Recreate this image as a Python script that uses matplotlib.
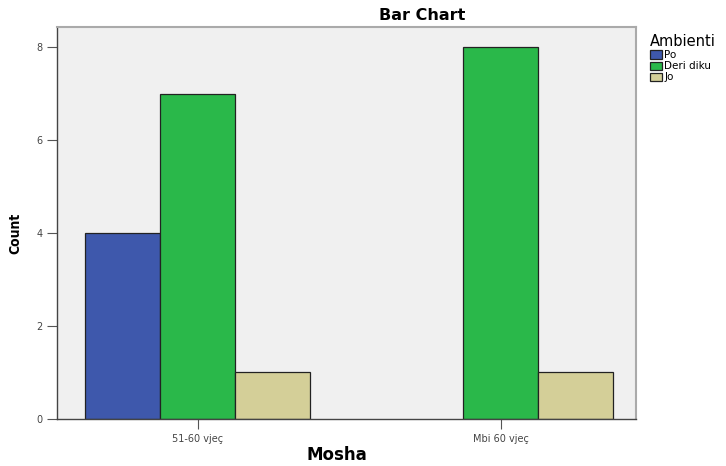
import numpy as np
import matplotlib.pyplot as plt

groups = ['51-60 vjeç', 'Mbi 60 vjeç']
series = ['Po', 'Deri diku', 'Jo']
counts = {
    'Po': [4, 0],
    'Deri diku': [7, 8],
    'Jo': [1, 1],
}
colors = {'Po': '#3e58ac', 'Deri diku': '#2ab84a', 'Jo': '#d4cf98'}

fig = plt.figure(figsize=(7.26, 4.66), dpi=100)
ax = fig.add_axes([0.0785, 0.1009, 0.797, 0.841])
ax.set_facecolor('#f0f0f0')

x = np.arange(len(groups))
w = 0.248
for i, s in enumerate(series):
    vals = np.array(counts[s])
    keep = vals > 0
    ax.bar(x[keep] + (i - 1) * w, vals[keep], width=w, color=colors[s],
           edgecolor='#222222', linewidth=0.9, label=s, zorder=2)

ax.set_xlim(-0.465, 1.446)
ax.set_ylim(0, 8.43)
ax.set_yticks([0, 2, 4, 6, 8])
ax.set_xticks(x)
ax.set_xticklabels(groups)
ax.tick_params(labelsize=7, colors='#555555', length=7, width=0.8, labelcolor='#444444')

for sp in ['left', 'bottom']:
    ax.spines[sp].set_color('#444444')
    ax.spines[sp].set_linewidth(1.0)
for sp in ['top', 'right']:
    ax.spines[sp].set_color('#aaaaaa')
    ax.spines[sp].set_linewidth(1.5)

fig.text(422 / 726, 1 - 15 / 466, 'Bar Chart', ha='center', va='center',
         fontsize=11.5, fontweight='bold', fontstretch='expanded')
fig.text(337 / 726, 1 - 455 / 466, 'Mosha', ha='center', va='center',
         fontsize=12, fontweight='bold')
fig.text(15 / 726, 1 - 233 / 466, 'Count', ha='center', va='center',
         rotation=90, fontsize=10, fontweight='bold', fontstretch='condensed')

leg = ax.legend(loc='upper left', bbox_to_anchor=(1.012, 1.0), frameon=False,
                title='Ambienti', fontsize=7.5, title_fontsize=10.5,
                handlelength=1.2, handleheight=0.9, handletextpad=0.2,
                labelspacing=0.1, borderaxespad=0.3)
leg._legend_box.align = 'left'

fig.savefig('out.png', dpi=100)
